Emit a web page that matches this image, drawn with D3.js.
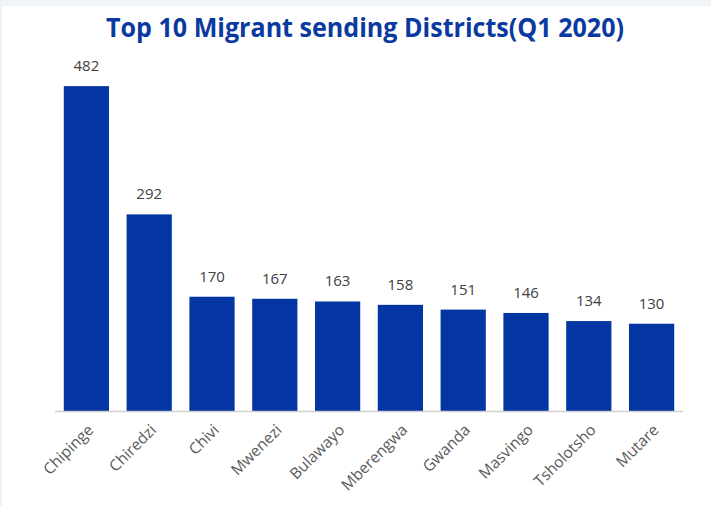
<!DOCTYPE html>
<html><head><meta charset="utf-8">
<script src="https://cdn.jsdelivr.net/npm/d3@7"></script>
<style>body{margin:0;background:#fff}svg{display:block}</style>
</head><body>
<svg id="c" width="711" height="506"></svg>
<script>
const categories = ["Chipinge","Chiredzi","Chivi","Mwenezi","Bulawayo","Mberengwa","Gwanda","Masvingo","Tsholotsho","Mutare"];
const values = [482,292,170,167,163,158,151,146,134,130];
const title = "Top 10 Migrant sending Districts(Q1 2020)";

const svg = d3.select("#c");
svg.append("rect").attr("x",0).attr("y",0).attr("width",711).attr("height",506).attr("fill","#f0f4f8");
svg.append("rect").attr("x",2).attr("y",6).attr("width",709).attr("height",500).attr("fill","#ffffff");

const x = d3.scaleBand().domain(categories).range([55,683]).paddingInner(0.28).paddingOuter(0.14);
const y = d3.scaleLinear().domain([0,500]).range([411.5,74]);

svg.append("text").attr("x",365).attr("y",37).attr("text-anchor","middle")
  .attr("font-family","Open Sans, sans-serif").attr("font-weight","bold").attr("font-size",27)
  .attr("fill","#0a3aa0").attr("textLength",518).attr("lengthAdjust","spacingAndGlyphs").text(title);

svg.append("g").selectAll("rect").data(values).join("rect")
  .attr("x",(d,i)=>x(categories[i])).attr("width",x.bandwidth())
  .attr("y",d=>y(d)).attr("height",d=>y(0)-y(d)).attr("fill","#0336a3");

svg.append("line").attr("x1",55).attr("x2",683).attr("y1",411.5).attr("y2",411.5)
  .attr("stroke","#d0d0d0").attr("stroke-width",1.5);

svg.append("g").selectAll("text").data(values).join("text")
  .attr("x",(d,i)=>x(categories[i])+x.bandwidth()/2).attr("y",d=>y(d)-15)
  .attr("text-anchor","middle").attr("font-family","Open Sans, sans-serif").attr("font-size",15)
  .attr("fill","#404040").text(d=>d);

svg.append("g").selectAll("text").data(categories).join("text")
  .attr("transform",d=>`translate(${x(d)+x.bandwidth()/2+8},${431}) rotate(-45)`)
  .attr("text-anchor","end").attr("font-family","Open Sans, sans-serif").attr("font-size",15.5)
  .attr("fill","#595959").text(d=>d);
</script>
</body></html>
